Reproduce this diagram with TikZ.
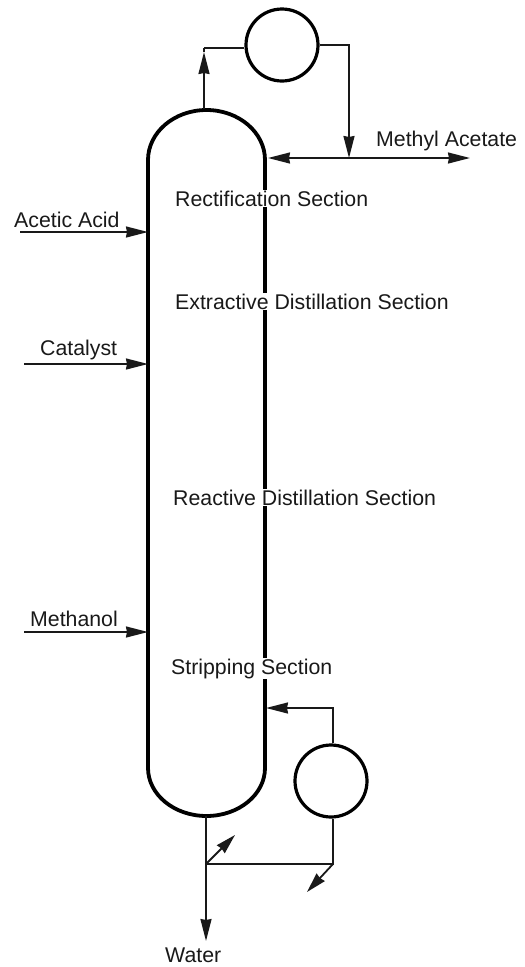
\documentclass[tikz,border=0pt]{standalone}
\usepackage{fontspec}
\setmainfont{Liberation Sans}
\usetikzlibrary{arrows.meta,calc}
\tikzset{
  vessel/.style={line width=3.8pt},
  exch/.style={circle,draw,line width=3.2pt,minimum size=72pt,inner sep=0pt},
  pipe/.style={line width=1.8pt,draw=black!90},
  flow/.style={pipe,-{Stealth[length=22pt,width=11pt,inset=1pt]}},
  flowb/.style={pipe,{Stealth[length=22pt,width=11pt,inset=1pt]}-{Stealth[length=22pt,width=11pt,inset=1pt]}},
  lbl/.style={anchor=base west,inner sep=0pt,font=\fontsize{21.3pt}{24pt}\selectfont,text=black!90},
  seclbl/.style={lbl,fill=white,inner ysep=1pt}
}
\begin{document}
\begin{tikzpicture}[x=1pt,y=-1pt]
\useasboundingbox (0,0) rectangle (525,967);
% column
\coordinate (TL) at (148,160);
\coordinate (TR) at (265,160);
\coordinate (BL) at (148,768);
\coordinate (BR) at (265,768);
\coordinate (top) at (206,110);
\coordinate (bot) at (206,816);
\draw[vessel,line cap=round] (BL) -- (TL) arc[start angle=180,end angle=0,x radius=58.5pt,y radius=50pt] -- (BR) arc[start angle=0,end angle=-180,x radius=58.5pt,y radius=48pt];
% exchangers
\node[exch] (cond) at (282,45) {};
\node[exch] (reb) at (331,781) {};
% overhead
\coordinate (o1) at (204,109);
\coordinate (o2) at (204,48);
\coordinate (o3) at (349,45);
\coordinate (o4) at (349,158);
\draw[pipe] (o2) -- (cond.west |- o2);
\draw[flow] (o1) -- (204,52);
\draw[pipe] (204,52) -- (o2);
\draw[flow,shorten >=0pt] (cond.east |- o3) -- (o3) -- (o4);
\coordinate (mL) at (268,158);
\coordinate (mR) at (470,158);
\draw[flowb] (mL) -- (mR);
% feeds
\coordinate (aS) at (20,232); \coordinate (aE) at (148,232);
\coordinate (cS) at (24,364); \coordinate (cE) at (148,364);
\coordinate (mS) at (24,632); \coordinate (mE) at (148,632);
\draw[flow] (aS) -- (aE);
\draw[flow] (cS) -- (cE);
\draw[flow] (mS) -- (mE);
% bottom
\coordinate (r1) at (333,708);
\coordinate (rE) at (266,708);
\coordinate (j1) at (206,864);
\coordinate (j2) at (333,864);
\coordinate (wE) at (206,941);
\coordinate (u1) at (235,835);
\coordinate (d1) at (307,892);
\draw[flow] (reb.north -| r1) -- (r1) -- (rE);
\draw[flow] (bot) -- (wE);
\draw[pipe] (j1) -- (j2) -- (reb.south -| j2);
\draw[pipe,-{Stealth[length=20pt,width=11pt,inset=1pt]}] (j1) -- (u1);
\draw[pipe,-{Stealth[length=20pt,width=11pt,inset=1pt]}] (j2) -- (d1);
% labels
\node[lbl] (lm) at (376,146) {Methyl Acetate};
\node[seclbl] (s1) at (175,206) {Rectification Section};
\node[lbl] (la) at (14,227) {Acetic Acid};
\node[seclbl] (s2) at (175,309) {Extractive Distillation Section};
\node[lbl] (lc) at (40,355) {Catalyst};
\node[seclbl] (s3) at (173,505) {Reactive Distillation Section};
\node[lbl] (lme) at (30,626) {Methanol};
\node[seclbl] (s4) at (171,674) {Stripping Section};
\node[lbl] (lw) at (165,962) {Water};
\end{tikzpicture}
\end{document}
